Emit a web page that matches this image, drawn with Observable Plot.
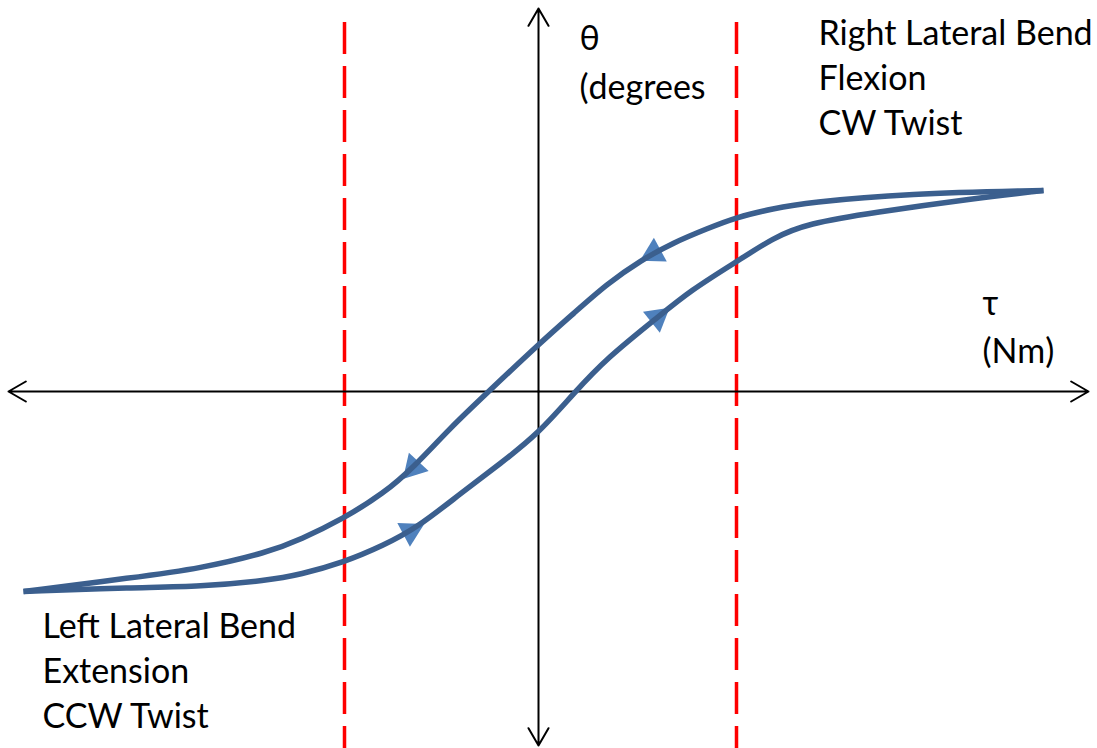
<!DOCTYPE html>
<html>
<head>
<meta charset="utf-8">
<script src="https://cdn.jsdelivr.net/npm/d3@7"></script>
<script src="https://cdn.jsdelivr.net/npm/@observablehq/plot@0.6"></script>
<style>
  html, body { margin: 0; padding: 0; background: #fff; }
  #chart svg { display: block; }
</style>
</head>
<body>
<div id="chart"></div>
<script>
// Torque τ (x) vs rotation θ (y), arbitrary units
// Unloading branch (travels from right to left, arrows point down-left)
const upperTau   = [5.05, 3.69, 2.69, 2.35, 1.97, 1.69, 1.35, 1.02, 0.69, 0.35, 0.02, -0.51, -0.88, -1.25, -1.55, -1.95, -2.38, -2.71, -3.38, -4.05, -5.15];
const upperTheta = [2.01, 1.98, 1.89, 1.83, 1.74, 1.63, 1.49, 1.31, 1.08, 0.78, 0.49, -0.01, -0.36, -0.76, -1.02, -1.27, -1.48, -1.61, -1.77, -1.86, -2.00];
// Loading branch (travels from left to right, arrows point up-right)
const lowerTau   = [-5.15, -4.05, -3.38, -2.71, -2.38, -1.95, -1.55, -1.21, -0.78, -0.38,  0.00, 0.35, 0.69, 1.19, 1.52, 1.97, 2.35, 2.69, 3.35, 4.35, 5.05];
const lowerTheta = [-2.00, -1.96, -1.95, -1.89, -1.83, -1.71, -1.54, -1.36, -1.02, -0.72, -0.42, -0.02, 0.34, 0.74, 1.01, 1.29, 1.54, 1.68, 1.79, 1.93, 2.01];

// direction arrows placed on branches at these τ values
const arrowBranch = ["upper", "upper", "lower", "lower"];
const arrowTau    = [1.15, -1.25, 1.19, -1.28];

// limit lines (dashed) at these τ values
const limitTau = [-1.94, 1.98];

// axis extents
const tauAxisEnds   = [-5.30, 5.50];
const thetaAxisEnds = [-3.54, 3.83];
const limitTop = 3.69, limitBottom = -3.57;

// labels
const labelText  = ["Right Lateral Bend\nFlexion\nCW Twist", "Left Lateral Bend\nExtension\nCCW Twist", "θ\n(degrees", "τ\n(Nm)"];
const labelTau   = [2.80, -4.96, 0.41, 4.44];
const labelTheta = [3.155, -2.77, 3.325, 0.68];

const upper = upperTau.map((t, i) => ({tau: t, theta: upperTheta[i]}));
const lower = lowerTau.map((t, i) => ({tau: t, theta: lowerTheta[i]}));
const branches = {upper, lower};

// arrow position and orientation derived from the branch geometry (equal px/unit on both axes)
function interp(branch, tau) {
  for (let i = 0; i < branch.length - 1; i++) {
    const a = branch[i], b = branch[i + 1];
    if ((tau - a.tau) * (tau - b.tau) <= 0) {
      const f = (tau - a.tau) / (b.tau - a.tau);
      const theta = a.theta + f * (b.theta - a.theta);
      const sx = b.tau - a.tau, sy = -(b.theta - a.theta);
      const rot = Math.atan2(sy, sx) * 180 / Math.PI + 90;
      return {tau, theta, rot};
    }
  }
  return null;
}
const arrows = arrowTau.map((t, i) => interp(branches[arrowBranch[i]], t));

const labels = labelText.map((s, i) => ({text: s, tau: labelTau[i], theta: labelTheta[i]}));

const lineColor = "#3b5f8e";
const arrowColor = "#4f81bd";

const chart = Plot.plot({
  width: 1097,
  height: 748,
  margin: 0,
  x: {domain: [-5.38, 5.59], axis: null},
  y: {domain: [-3.57, 3.91], axis: null},
  style: {fontFamily: "Lato, 'Open Sans', sans-serif", background: "#fff"},
  marks: [
    Plot.ruleX(limitTau, {x: d => d, y1: limitTop, y2: limitBottom, stroke: "#ff0000", strokeWidth: 3.5, strokeDasharray: "32,12"}),
    Plot.arrow(tauAxisEnds, {x1: 0, y1: 0, x2: d => d, y2: 0, stroke: "#000", strokeWidth: 2, headLength: 15, headAngle: 60}),
    Plot.arrow(thetaAxisEnds, {x1: 0, y1: 0, x2: 0, y2: d => d, stroke: "#000", strokeWidth: 2, headLength: 15, headAngle: 60}),
    Plot.dot(arrows, {x: "tau", y: "theta", symbol: "triangle", r: 10, fill: arrowColor, stroke: "none", rotate: "rot"}),
    Plot.line(upper, {x: "tau", y: "theta", curve: "basis", stroke: lineColor, strokeWidth: 5.5, strokeLinecap: "butt"}),
    Plot.line(lower, {x: "tau", y: "theta", curve: "basis", stroke: lineColor, strokeWidth: 5.5, strokeLinecap: "butt"}),
    Plot.text(labels.slice(0, 2), {x: "tau", y: "theta", text: "text", textAnchor: "start", lineAnchor: "middle", lineHeight: 1.32, fontSize: 34, fill: "#000"}),
    Plot.text(labels.slice(2), {x: "tau", y: "theta", text: "text", textAnchor: "start", lineAnchor: "middle", lineHeight: 1.42, fontSize: 34, fill: "#000"})
  ]
});
document.getElementById("chart").append(chart);
</script>
</body>
</html>
